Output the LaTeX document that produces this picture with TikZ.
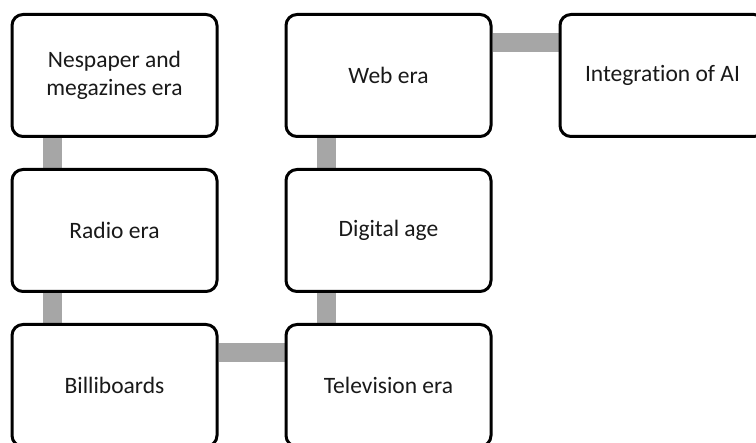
\documentclass[tikz,border=0pt]{standalone}
\usepackage{fontspec}
\setmainfont{Carlito}[Ligatures=NoCommon]
\usetikzlibrary{backgrounds}
\definecolor{conngray}{HTML}{A6A6A6}
\tikzset{
  era/.style={draw=black, fill=white, line width=3pt, rounded corners=11pt,
    minimum width=205pt, minimum height=122pt, inner sep=0pt,
    align=center, font=\fontsize{23.5}{28}\selectfont, text=black!90},
  conn/.style={draw=conngray, line width=19pt}
}
\begin{document}
\begin{tikzpicture}[x=1pt,y=-1pt]
\useasboundingbox (0,0) rectangle (756,443);
\node[era] (news)  at (114.5,75.5)  {Nespaper and\\megazines era};
\node[era] (radio) at (114.5,230.5) {Radio era};
\node[era] (bill)  at (114.5,385.5) {Billiboards};
\node[era] (tv)    at (388.5,385.5) {Television era};
\node[era] (dig)   at (388.5,230.5) {Digital age};
\node[era] (web)   at (388.5,75.5)  {Web era};
\node[era] (ai)    at (662.5,75.5)  {Integration of AI};
\begin{pgfonlayer}{background}
\draw[conn] ([xshift=41.5pt]news.south west) -- ([xshift=41.5pt]radio.north west);
\draw[conn] ([xshift=41.5pt]radio.south west) -- ([xshift=41.5pt]bill.north west);
\draw[conn] ([yshift=-29.5pt]bill.north east) -- ([yshift=-29.5pt]tv.north west);
\draw[conn] ([xshift=41.5pt]tv.north west) -- ([xshift=41.5pt]dig.south west);
\draw[conn] ([xshift=41.5pt]dig.north west) -- ([xshift=41.5pt]web.south west);
\draw[conn] ([yshift=-29.5pt]web.north east) -- ([yshift=-29.5pt]ai.north west);
\end{pgfonlayer}
\end{tikzpicture}
\end{document}
